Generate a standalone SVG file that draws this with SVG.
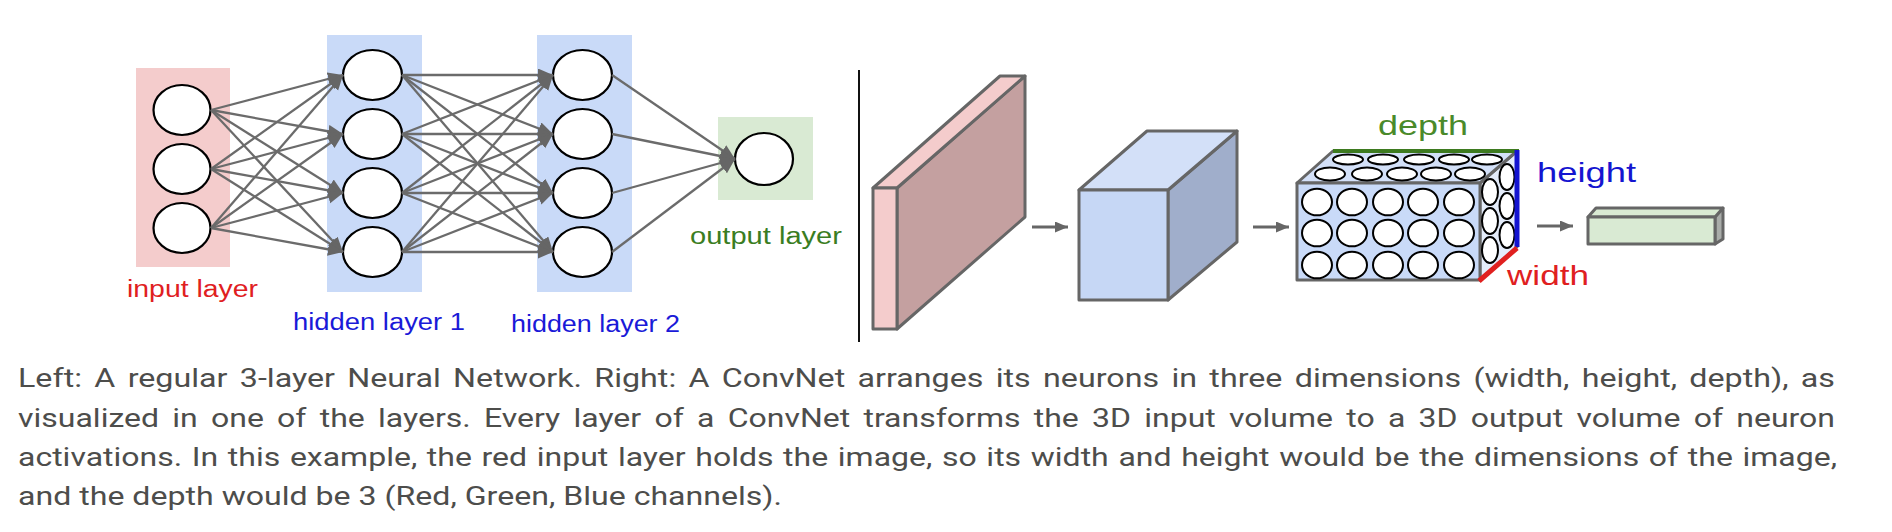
<svg xmlns="http://www.w3.org/2000/svg" width="1892" height="532" viewBox="0 0 1892 532">
<defs>
<style>
.nd{fill:#fff;stroke:#000;stroke-width:2.2}
.cn{stroke:#6b6b6b;stroke-width:2.3;fill:none;marker-end:url(#ah)}
.va{stroke:#666;stroke-width:3;fill:none;marker-end:url(#ah2)}
.edge{stroke:#666;stroke-width:3;stroke-linejoin:round}
.lbl{font-family:"Liberation Sans",Arial,sans-serif;font-size:23px}
.lbl2{font-family:"Liberation Sans",Arial,sans-serif;font-size:28px}
.cap{font-family:Roboto,"Liberation Sans",sans-serif;font-size:26px;fill:#4d4d4b}
.ce{fill:#fff;stroke:#000;stroke-width:2}
</style>
<marker id="ah" markerUnits="userSpaceOnUse" markerWidth="16" markerHeight="14" refX="15" refY="6.5" orient="auto"><path d="M0,0 L15,6.5 L0,13 z" fill="#666"/></marker>
<marker id="ah2" markerUnits="userSpaceOnUse" markerWidth="14" markerHeight="12" refX="13" refY="5.5" orient="auto"><path d="M0,0 L13,5.5 L0,11 z" fill="#666"/></marker>
</defs>
<rect width="1892" height="532" fill="#fff"/>

<g id="input-layer">
<rect x="136" y="68" width="94" height="199" fill="#f4cccc"/>
<ellipse class="nd" cx="182" cy="110" rx="28.5" ry="25"/>
<ellipse class="nd" cx="182" cy="169" rx="28.5" ry="25"/>
<ellipse class="nd" cx="182" cy="228" rx="28.5" ry="25"/>
<text class="lbl" x="127" y="297" fill="#e0201f" textLength="131" lengthAdjust="spacingAndGlyphs">input layer</text>
</g>

<g id="hidden-layer-1">
<rect x="327" y="35" width="95" height="257" fill="#c9daf8"/>
<ellipse class="nd" cx="372.5" cy="75" rx="29.5" ry="25"/>
<ellipse class="nd" cx="372.5" cy="134" rx="29.5" ry="25"/>
<ellipse class="nd" cx="372.5" cy="193" rx="29.5" ry="25"/>
<ellipse class="nd" cx="372.5" cy="252" rx="29.5" ry="25"/>
<text class="lbl" x="293" y="330" fill="#1a1ad8" textLength="172" lengthAdjust="spacingAndGlyphs">hidden layer 1</text>
</g>

<g id="hidden-layer-2">
<rect x="537" y="35" width="95" height="257" fill="#c9daf8"/>
<ellipse class="nd" cx="582.5" cy="75" rx="29.5" ry="25"/>
<ellipse class="nd" cx="582.5" cy="134" rx="29.5" ry="25"/>
<ellipse class="nd" cx="582.5" cy="193" rx="29.5" ry="25"/>
<ellipse class="nd" cx="582.5" cy="252" rx="29.5" ry="25"/>
<text class="lbl" x="511" y="332" fill="#1a1ad8" textLength="169" lengthAdjust="spacingAndGlyphs">hidden layer 2</text>
</g>

<g id="output-layer">
<rect x="718" y="117" width="95" height="83" fill="#d9ead3"/>
<ellipse class="nd" cx="764" cy="159" rx="29" ry="26"/>
<text class="lbl" x="690" y="244" fill="#3a7d22" textLength="152" lengthAdjust="spacingAndGlyphs">output layer</text>
</g>

<g id="connectors">
<line class="cn" x1="211" y1="110" x2="343" y2="75"/>
<line class="cn" x1="211" y1="110" x2="343" y2="134"/>
<line class="cn" x1="211" y1="110" x2="343" y2="193"/>
<line class="cn" x1="211" y1="110" x2="343" y2="252"/>
<line class="cn" x1="211" y1="169" x2="343" y2="75"/>
<line class="cn" x1="211" y1="169" x2="343" y2="134"/>
<line class="cn" x1="211" y1="169" x2="343" y2="193"/>
<line class="cn" x1="211" y1="169" x2="343" y2="252"/>
<line class="cn" x1="211" y1="228" x2="343" y2="75"/>
<line class="cn" x1="211" y1="228" x2="343" y2="134"/>
<line class="cn" x1="211" y1="228" x2="343" y2="193"/>
<line class="cn" x1="211" y1="228" x2="343" y2="252"/>
<line class="cn" x1="402" y1="75" x2="553" y2="75"/>
<line class="cn" x1="402" y1="75" x2="553" y2="134"/>
<line class="cn" x1="402" y1="75" x2="553" y2="193"/>
<line class="cn" x1="402" y1="75" x2="553" y2="252"/>
<line class="cn" x1="402" y1="134" x2="553" y2="75"/>
<line class="cn" x1="402" y1="134" x2="553" y2="134"/>
<line class="cn" x1="402" y1="134" x2="553" y2="193"/>
<line class="cn" x1="402" y1="134" x2="553" y2="252"/>
<line class="cn" x1="402" y1="193" x2="553" y2="75"/>
<line class="cn" x1="402" y1="193" x2="553" y2="134"/>
<line class="cn" x1="402" y1="193" x2="553" y2="193"/>
<line class="cn" x1="402" y1="193" x2="553" y2="252"/>
<line class="cn" x1="402" y1="252" x2="553" y2="75"/>
<line class="cn" x1="402" y1="252" x2="553" y2="134"/>
<line class="cn" x1="402" y1="252" x2="553" y2="193"/>
<line class="cn" x1="402" y1="252" x2="553" y2="252"/>
<line class="cn" x1="612" y1="75" x2="735" y2="159"/>
<line class="cn" x1="612" y1="134" x2="735" y2="159"/>
<line class="cn" x1="612" y1="193" x2="735" y2="159"/>
<line class="cn" x1="612" y1="252" x2="735" y2="159"/>
<line class="va" x1="1032" y1="227" x2="1068" y2="227"/>
<line class="va" x1="1253" y1="227" x2="1289" y2="227"/>
<line class="va" x1="1537" y1="226" x2="1573" y2="226"/>
</g>

<g id="divider">
<line x1="859" y1="70" x2="859" y2="342" stroke="#111" stroke-width="2"/>
</g>

<g id="input-volume">
<polygon class="edge" points="897,188 1025,76 1025,217 897,329" fill="#c4a0a0"/>
<polygon class="edge" points="873,188 1000,76 1025,76 897,188" fill="#f4cccc"/>
<rect class="edge" x="873" y="188" width="24" height="141" fill="#f4cccc"/>
</g>

<g id="hidden-volume">
<polygon class="edge" points="1168,190 1237,131 1237,242 1168,300" fill="#a0aecb"/>
<polygon class="edge" points="1079,190 1147,131 1237,131 1168,190" fill="#d3e0f8"/>
<rect class="edge" x="1079" y="190" width="89" height="110" fill="#c6d7f5"/>
</g>

<g id="neuron-volume">
<polygon class="edge" points="1480,183 1517,151 1517,247 1480,280" fill="#e4ecfa"/>
<polygon class="edge" points="1297,183 1333,151 1517,151 1480,183" fill="#d3e0f8"/>
<rect class="edge" x="1297" y="183" width="183" height="97" fill="#c9daf8"/>
<g>
<ellipse class="ce" cx="1348" cy="159.5" rx="15" ry="5"/>
<ellipse class="ce" cx="1383" cy="159.5" rx="15" ry="5"/>
<ellipse class="ce" cx="1419" cy="159.5" rx="15" ry="5"/>
<ellipse class="ce" cx="1454" cy="159.5" rx="15" ry="5"/>
<ellipse class="ce" cx="1487" cy="159.5" rx="15" ry="5"/>
<ellipse class="ce" cx="1330" cy="174" rx="15" ry="6.5"/>
<ellipse class="ce" cx="1367" cy="174" rx="15" ry="6.5"/>
<ellipse class="ce" cx="1402" cy="174" rx="15" ry="6.5"/>
<ellipse class="ce" cx="1436" cy="174" rx="15" ry="6.5"/>
<ellipse class="ce" cx="1470" cy="174" rx="15" ry="6.5"/>
</g>
<g>
<ellipse class="ce" cx="1507" cy="177" rx="7.5" ry="13"/>
<ellipse class="ce" cx="1507" cy="206" rx="7.5" ry="13"/>
<ellipse class="ce" cx="1507" cy="235" rx="7.5" ry="13"/>
<ellipse class="ce" cx="1490" cy="192" rx="8" ry="13"/>
<ellipse class="ce" cx="1490" cy="221" rx="8" ry="13"/>
<ellipse class="ce" cx="1490" cy="250" rx="8" ry="13"/>
</g>
<g>
<ellipse class="ce" cx="1317" cy="202" rx="15" ry="13.3"/>
<ellipse class="ce" cx="1352" cy="202" rx="15" ry="13.3"/>
<ellipse class="ce" cx="1388" cy="202" rx="15" ry="13.3"/>
<ellipse class="ce" cx="1423" cy="202" rx="15" ry="13.3"/>
<ellipse class="ce" cx="1459" cy="202" rx="15" ry="13.3"/>
<ellipse class="ce" cx="1317" cy="233" rx="15" ry="13.3"/>
<ellipse class="ce" cx="1352" cy="233" rx="15" ry="13.3"/>
<ellipse class="ce" cx="1388" cy="233" rx="15" ry="13.3"/>
<ellipse class="ce" cx="1423" cy="233" rx="15" ry="13.3"/>
<ellipse class="ce" cx="1459" cy="233" rx="15" ry="13.3"/>
<ellipse class="ce" cx="1317" cy="265" rx="15" ry="13.3"/>
<ellipse class="ce" cx="1352" cy="265" rx="15" ry="13.3"/>
<ellipse class="ce" cx="1388" cy="265" rx="15" ry="13.3"/>
<ellipse class="ce" cx="1423" cy="265" rx="15" ry="13.3"/>
<ellipse class="ce" cx="1459" cy="265" rx="15" ry="13.3"/>
</g>
<line x1="1333" y1="151" x2="1519" y2="151" stroke="#3d7a1f" stroke-width="4"/>
<line x1="1517" y1="150" x2="1517" y2="247" stroke="#1414d0" stroke-width="5"/>
<line x1="1479" y1="281" x2="1517" y2="248" stroke="#e0201f" stroke-width="5"/>
<text class="lbl2" x="1378" y="135" fill="#4a8a2a" textLength="90" lengthAdjust="spacingAndGlyphs">depth</text>
<text class="lbl2" x="1537" y="182" fill="#1515d0" textLength="99" lengthAdjust="spacingAndGlyphs">height</text>
<text class="lbl2" x="1507" y="285" fill="#e0201f" textLength="82" lengthAdjust="spacingAndGlyphs">width</text>
</g>

<g id="output-volume">
<polygon class="edge" points="1715,217 1723,208 1723,239 1715,244" fill="#a9aca9"/>
<polygon class="edge" points="1588,217 1596,208 1723,208 1715,217" fill="#d9ead3"/>
<rect class="edge" x="1588" y="217" width="127" height="27" fill="#d9ead3"/>
</g>

<g id="caption">
<text class="cap" x="18" y="387" textLength="1817" lengthAdjust="spacingAndGlyphs" word-spacing="3.5">Left: A regular 3-layer Neural Network. Right: A ConvNet arranges its neurons in three dimensions (width, height, depth), as</text>
<text class="cap" x="18" y="427" textLength="1817" lengthAdjust="spacingAndGlyphs" word-spacing="4.3">visualized in one of the layers. Every layer of a ConvNet transforms the 3D input volume to a 3D output volume of neuron</text>
<text class="cap" x="18" y="466" textLength="1819" lengthAdjust="spacingAndGlyphs" word-spacing="1.4">activations. In this example, the red input layer holds the image, so its width and height would be the dimensions of the image,</text>
<text class="cap" x="18" y="505" textLength="764" lengthAdjust="spacingAndGlyphs">and the depth would be 3 (Red, Green, Blue channels).</text>
</g>
</svg>
